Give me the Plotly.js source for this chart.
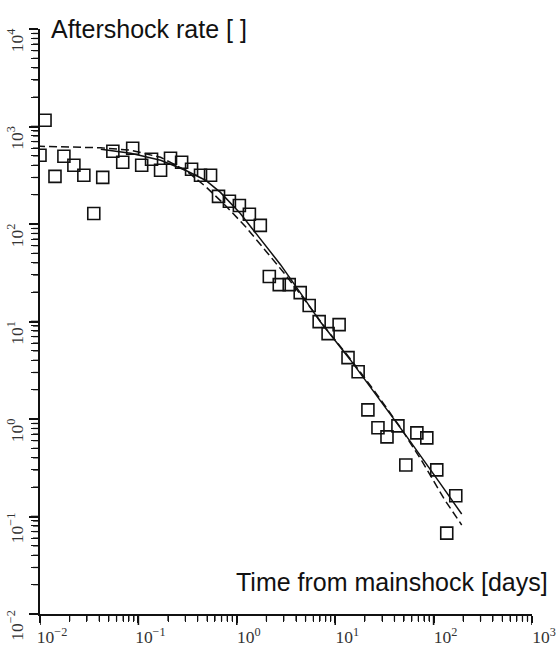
<!DOCTYPE html>
<html>
<head>
<meta charset="utf-8">
<script src="https://cdn.plot.ly/plotly-3.0.1.min.js"></script>
<style>
  html, body { margin: 0; padding: 0; background: #ffffff; }
  #chart { width: 557px; height: 648px; }
</style>
</head>
<body>
<div id="chart"></div>
<script>
// Observed aftershock rate (time in days, rate)
var obsTime = [0.0100, 0.01125, 0.0142, 0.0175, 0.0221, 0.0279, 0.0352, 0.0434, 0.0550, 0.0693,
               0.0875, 0.108, 0.136, 0.168, 0.212, 0.275, 0.347, 0.428, 0.541, 0.652,
               0.841, 1.062, 1.342, 1.734, 2.14, 2.70, 3.41, 4.41, 5.44, 6.87,
               8.47, 10.96, 13.5, 17.1, 21.5, 27.2, 33.6, 43.4, 52.2, 67.6,
               85.3, 107.7, 136, 168];
var obsRate = [507, 1161, 308, 495, 400, 316, 128, 301, 557, 430,
               598, 400, 461, 356, 472, 430, 364, 316, 316, 192,
               171, 155, 126, 96.8, 28.9, 23.9, 23.9, 19.8, 14.6, 9.98,
               7.51, 9.29, 4.26, 3.05, 1.24, 0.813, 0.656, 0.851, 0.338, 0.721,
               0.641, 0.301, 0.0676, 0.163];

// Solid fitted curve
var solidTime = [0.0415, 0.0836, 0.168, 0.301, 0.481, 0.682, 1.087, 1.734, 2.77, 4.41,
                 7.03, 14.2, 28.5, 57.4, 115.6, 193];
var solidRate = [585, 532, 451, 356, 281, 211, 128, 71.1, 38.5, 19.8,
                 9.98, 4.06, 1.57, 0.597, 0.221, 0.106];

// Dashed fitted curve
var dashTime = [0.00933, 0.0206, 0.0415, 0.0836, 0.168, 0.301, 0.481, 0.766, 1.222, 1.95,
                3.11, 4.95, 7.90, 14.2, 25.4, 45.5, 75.9, 129.8, 193];
var dashRate = [628, 620, 605, 571, 483, 356, 243, 155, 94.4, 53.6,
                30.3, 16.4, 8.65, 4.16, 1.90, 0.832, 0.372, 0.148, 0.0818];

// Tick positions (decades and the 2..9 minor positions)
var xMajorVals = [0.01, 0.1, 1, 10, 100, 1000];
var yMajorVals = [0.01, 0.1, 1, 10, 100, 1000, 10000];
var xMinorVals = [0.02, 0.03, 0.04, 0.05, 0.06, 0.07, 0.08, 0.09,
                  0.2, 0.3, 0.4, 0.5, 0.6, 0.7, 0.8, 0.9,
                  2, 3, 4, 5, 6, 7, 8, 9,
                  20, 30, 40, 50, 60, 70, 80, 90,
                  200, 300, 400, 500, 600, 700, 800, 900];
var yMinorVals = [0.02, 0.03, 0.04, 0.05, 0.06, 0.07, 0.08, 0.09,
                  0.2, 0.3, 0.4, 0.5, 0.6, 0.7, 0.8, 0.9,
                  2, 3, 4, 5, 6, 7, 8, 9,
                  20, 30, 40, 50, 60, 70, 80, 90,
                  200, 300, 400, 500, 600, 700, 800, 900,
                  2000, 3000, 4000, 5000, 6000, 7000, 8000, 9000];

// Tick label replacements for the decades that Plotly writes as plain numbers
var tickAlias = {'1': '10<sup>0</sup>', '10': '10<sup>1</sup>'};

var yTitle = 'Aftershock rate [ ]';
var xTitle = 'Time from mainshock [days]';

var ink = '#111111';

var traces = [
  {
    x: dashTime, y: dashRate, type: 'scatter', mode: 'lines',
    line: {color: ink, width: 1.5, dash: '8px,4px'},
    hoverinfo: 'skip', showlegend: false
  },
  {
    x: solidTime, y: solidRate, type: 'scatter', mode: 'lines',
    line: {color: ink, width: 1.5},
    hoverinfo: 'skip', showlegend: false
  },
  {
    x: obsTime, y: obsRate, type: 'scatter', mode: 'markers',
    marker: {symbol: 'square-open', size: 12, color: ink, line: {width: 1.6, color: ink}},
    showlegend: false
  }
];

// Tick marks drawn as axis-referenced shapes (length in pixels, outside the plot)
function xTick(v, len, w) {
  return {type: 'line', xref: 'x', yref: 'paper', ysizemode: 'pixel', yanchor: 0,
          x0: v, x1: v, y0: 0, y1: -len, line: {color: ink, width: w}, layer: 'above'};
}
function yTick(v, len, w) {
  return {type: 'line', xref: 'paper', yref: 'y', xsizemode: 'pixel', xanchor: 0,
          y0: v, y1: v, x0: 0, x1: -len, line: {color: ink, width: w}, layer: 'above'};
}
var tickShapes = []
  .concat(xMajorVals.map(function(v) { return xTick(v, 11, 1.6); }))
  .concat(xMinorVals.map(function(v) { return xTick(v, 7, 1.3); }))
  .concat(yMajorVals.map(function(v) { return yTick(v, 9, 1.6); }))
  .concat(yMinorVals.map(function(v) { return yTick(v, 7, 1.3); }));

var tickFont = {family: 'Liberation Serif, Times New Roman, serif', size: 14, color: '#333333'};

var layout = {
  width: 557, height: 648,
  margin: {l: 40, r: 25, t: 29, b: 34},
  showlegend: false,
  xaxis: {
    type: 'log', range: [-2, 3], autorange: false,
    tickmode: 'linear', tick0: 0, dtick: 1,
    exponentformat: 'power', labelalias: tickAlias,
    ticks: 'outside', ticklen: 7, tickwidth: 1.5, tickcolor: ink,
    minor: {ticks: 'outside', dtick: 'D1', ticklen: 6, tickwidth: 1.3, tickcolor: ink, showgrid: false},
    showline: true, linecolor: ink, linewidth: 1.8,
    showgrid: false, zeroline: false,
    tickfont: tickFont, ticklabelshift: 12
  },
  yaxis: {
    type: 'log', range: [-2, 4], autorange: false,
    tickmode: 'linear', tick0: 0, dtick: 1,
    exponentformat: 'power', labelalias: tickAlias,
    ticks: 'outside', ticklen: 9, tickwidth: 1.5, tickcolor: ink,
    minor: {ticks: 'outside', dtick: 'D1', ticklen: 7, tickwidth: 1.3, tickcolor: ink, showgrid: false},
    showline: true, linecolor: ink, linewidth: 1.8,
    showgrid: false, zeroline: false,
    tickfont: tickFont, tickangle: -90, ticklabelshift: 14
  },
  shapes: tickShapes,
  annotations: [
    {
      text: yTitle, xref: 'paper', yref: 'paper', x: 0.018, y: 1.0,
      xanchor: 'left', yanchor: 'middle', showarrow: false,
      font: {family: 'Liberation Sans, Arial, sans-serif', size: 25, color: ink}
    },
    {
      text: xTitle, xref: 'paper', yref: 'paper', x: 1.037, y: 0.055,
      xanchor: 'right', yanchor: 'middle', showarrow: false,
      font: {family: 'Liberation Sans, Arial, sans-serif', size: 25, color: ink}
    }
  ]
};

Plotly.newPlot('chart', traces, layout, {displayModeBar: false});
</script>
</body>
</html>
